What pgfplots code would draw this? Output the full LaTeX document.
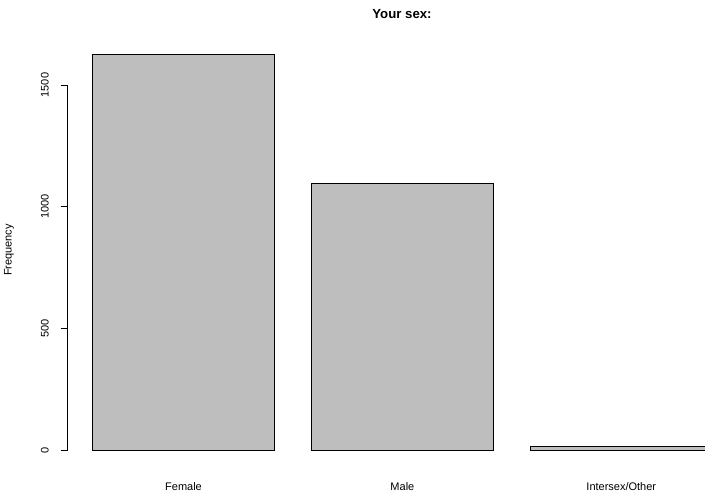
\documentclass[border=0pt]{standalone}
\usepackage{fontspec}
\setmainfont{Liberation Sans}
\usepackage{pgfplots}
\pgfplotsset{compat=1.18}
\definecolor{bargray}{HTML}{BEBEBE}
\begin{document}
\begin{tikzpicture}[x=1bp,y=1bp]
\useasboundingbox (0,0) rectangle (705,492);
\begin{axis}[
  at={(67.5bp,26.2bp)}, anchor=south west,
  scale only axis, width=637.5bp, height=427bp,
  xmin=0.064, xmax=3.559, ymin=-65, ymax=1690,
  clip=false,
  axis line style={draw=none},
  xtick={0.7,1.9,3.1},
  xticklabels={Female,Male,Intersex/Other},
  major x tick style={draw=none},
  x tick label style={anchor=base, yshift=-17.5bp, font=\fontsize{11bp}{13bp}\selectfont},
  ytick={0,500,1000,1500},
  tick align=outside,
  major tick length=7bp,
  major y tick style={black, line width=0.8bp},
  y tick label style={rotate=90, anchor=base, font=\fontsize{11bp}{13bp}\selectfont},
  yticklabel shift={12bp},
  /pgf/number format/assume math mode=true,
  /pgf/number format/1000 sep={},
  xtick pos=bottom, ytick pos=left,
]
\addplot[ybar, bar width=1, fill=bargray, draw=black, line width=0.8bp] coordinates {(0.7,1625) (1.9,1094) (3.1,14)};
\addplot[black, line width=0.8bp] coordinates {(0.064,0) (0.064,1500)};
\end{axis}
\node[anchor=base, font=\fontsize{13.2bp}{15bp}\selectfont\bfseries] at (402,473.7) {Your sex:};
\node[rotate=90, anchor=base, font=\fontsize{11bp}{13bp}\selectfont] at (11.7,242) {Frequency};
\end{tikzpicture}
\end{document}
